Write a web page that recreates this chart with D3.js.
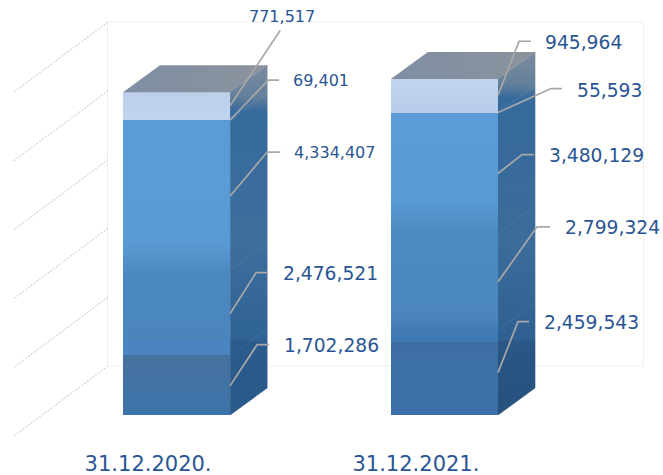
<!DOCTYPE html>
<html>
<head>
<meta charset="utf-8">
<script src="https://cdn.jsdelivr.net/npm/d3@7"></script>
<style>
  html, body { margin: 0; background: #fff; }
  text { font-family: "DejaVu Sans", Verdana, sans-serif; fill: #2a5595; }
</style>
</head>
<body>
<div id="chart"></div>
<script>
// Define the dataset, bottom of the stack first
var dates = ["31.12.2020.", "31.12.2021."];
var seriesA = [1702286, 2459543];
var seriesB = [2476521, 2799324];
var seriesC = [4334407, 3480129];
var seriesD = [69401, 55593];
var seriesE = [771517, 945964];
var wallTicks = [0, 2000000, 4000000, 6000000, 8000000, 10000000];

// Where each value label goes, in the same order as the stack, one list per date
// dx/dy = elbow relative to the start of the leader, run = flat part, tx/ty = label, size = font
var leaders2020 = [
  { dx: 27, dy: -41, run: 12, tx: 284, ty: 352, size: 18.7 },
  { dx: 26, dy: -41, run: 12, tx: 283, ty: 280, size: 18.7 },
  { dx: 37, dy: -44, run: 13, tx: 294, ty: 158, size: 16 },
  { dx: 38, dy: -40, run: 11, tx: 293, ty: 86, size: 16 },
  { dx: 50, dy: -75, run: 0, tx: 249, ty: 22, size: 16 }
];
var leaders2021 = [
  { dx: 20, dy: -51, run: 11, tx: 544, ty: 329, size: 18.7 },
  { dx: 39, dy: -55, run: 13, tx: 565, ty: 234, size: 18.7 },
  { dx: 24, dy: -19, run: 12, tx: 549, ty: 162, size: 18.7 },
  { dx: 53, dy: -24, run: 11, tx: 577, ty: 97, size: 18.7 },
  { dx: 21, dy: -54, run: 12, tx: 545, ty: 49, size: 18.7 }
];

var svgWidth = 663;
var svgHeight = 475;

// Depth of the fake 3D
var depthX = 37;
var depthY = -27;

var svg = d3.select("#chart")
  .append("svg")
  .attr("width", svgWidth)
  .attr("height", svgHeight)
  .style("display", "block");

var xBandScale = d3.scaleBand()
  .domain(dates)
  .range([123, 498])
  .paddingInner(0.6)
  .paddingOuter(0);

var yBar = d3.scaleLinear().domain([0, 10000000]).range([415, 70]);
var yWall = d3.scaleLinear().domain([0, 10000000]).range([366, 22]);
var yFloor = d3.scaleLinear().domain([0, 10000000]).range([436, 92]);

// Stack the series
var rows = dates.map(function(d, i) {
  return { date: d, a: seriesA[i], b: seriesB[i], c: seriesC[i], d: seriesD[i], e: seriesE[i] };
});
var stacked = d3.stack().keys(["a", "b", "c", "d", "e"])(rows);

// The source image is soft, so each bar shares one top-to-bottom gradient per face
// [pixel row, colour], repeated rows make a hard edge
var frontShade = [
  [[92, "#bccfe9"], [120, "#c2d4ed"], [120, "#5b9bd7"], [240, "#5b9bd5"], [275, "#4b88c0"],
    [340, "#4a86bc"], [342, "#4a85c4"], [355, "#4a84c0"], [355, "#45719f"], [415, "#3d74ab"]],
  [[79, "#c2d4ee"], [113, "#b8cdea"], [113, "#5b9bd7"], [200, "#5a9ad4"], [230, "#4c8ac3"],
    [320, "#4a86bc"], [330, "#3f7ab5"], [342, "#3f7ab5"], [342, "#3d6fa3"], [415, "#3b70a8"]]
];
var sideShade = [
  [[65, "#7c8b9d"], [96, "#64809b"], [112, "#356a9c"], [240, "#3d6f9d"], [340, "#2f6395"],
    [342, "#2b5a8c"], [388, "#2a5a8a"]],
  [[52, "#7c8b9d"], [84, "#64809b"], [98, "#356a9c"], [240, "#3b6c9a"], [340, "#2f6092"],
    [342, "#2a5786"], [388, "#28527f"]]
];
var defs = svg.append("defs");

function addGradient(id, stops) {
  var y0 = stops[0][0];
  var y1 = stops[stops.length - 1][0];
  var g = defs.append("linearGradient")
    .attr("id", id)
    .attr("gradientUnits", "userSpaceOnUse")
    .attr("x1", 0).attr("x2", 0).attr("y1", y0).attr("y2", y1);
  stops.forEach(function(s) {
    g.append("stop").attr("offset", (s[0] - y0) / (y1 - y0)).attr("stop-color", s[1]);
  });
}
frontShade.forEach(function(stops, i) { addGradient("front" + i, stops); });
sideShade.forEach(function(stops, i) { addGradient("side" + i, stops); });

var topGrad = defs.append("linearGradient").attr("id", "topFace");
topGrad.append("stop").attr("offset", 0).attr("stop-color", "#7e8ea3");
topGrad.append("stop").attr("offset", 1).attr("stop-color", "#8b939d");

// Back wall
svg.append("rect")
  .attr("x", 107.5)
  .attr("y", yWall(10000000))
  .attr("width", 536)
  .attr("height", yWall(0) - yWall(10000000))
  .attr("fill", "#fffffd")
  .attr("stroke", "#efefec");

// Dotted lines on the left side wall
svg.append("g")
  .selectAll("line")
  .data(wallTicks)
  .enter()
  .append("line")
  .attr("x1", 14)
  .attr("y1", function(d) { return yFloor(d); })
  .attr("x2", 108)
  .attr("y2", function(d) { return yWall(d); })
  .attr("stroke", "#b0b0b0")
  .attr("stroke-width", 0.8)
  .attr("stroke-dasharray", "2 1.5");

// Bars
function poly(pts) {
  return pts.map(function(p) { return p.join(","); }).join(" ");
}

var bw = xBandScale.bandwidth();

stacked.forEach(function(layer) {
  var group = svg.append("g").attr("class", "layer");

  group.selectAll("polygon")
    .data(layer)
    .enter()
    .append("polygon")
    .attr("points", function(d) {
      var r = xBandScale(d.data.date) + bw;
      return poly([[r, yBar(d[1])], [r + depthX, yBar(d[1]) + depthY],
        [r + depthX, yBar(d[0]) + depthY], [r, yBar(d[0])]]);
    })
    .attr("fill", function(d, i) { return "url(#side" + i + ")"; })
    .attr("stroke", function(d, i) { return "url(#side" + i + ")"; })
    .attr("stroke-width", 0.6);

  group.selectAll("rect")
    .data(layer)
    .enter()
    .append("rect")
    .attr("x", function(d) { return xBandScale(d.data.date); })
    .attr("y", function(d) { return yBar(d[1]); })
    .attr("width", bw)
    .attr("height", function(d) { return yBar(d[0]) - yBar(d[1]); })
    .attr("shape-rendering", "crispEdges")
    .attr("fill", function(d, i) { return "url(#front" + i + ")"; });
});

// Top face of each bar
svg.append("g")
  .selectAll("polygon")
  .data(stacked[4])
  .enter()
  .append("polygon")
  .attr("points", function(d) {
    var l = xBandScale(d.data.date);
    var t = yBar(d[1]);
    return poly([[l, t], [l + bw, t], [l + bw + depthX, t + depthY], [l + depthX, t + depthY]]);
  })
  .attr("fill", "url(#topFace)");

// Leader lines and value labels
var leaders = [leaders2020, leaders2021];

dates.forEach(function(date, di) {
  stacked.forEach(function(layer, li) {
    var d = layer[di];
    var l = leaders[di][li];
    var x0 = xBandScale(date) + bw;
    var y0 = yBar((d[0] + d[1]) / 2);

    svg.append("polyline")
      .attr("points", poly([[x0, y0], [x0 + l.dx, y0 + l.dy], [x0 + l.dx + l.run, y0 + l.dy]]))
      .attr("fill", "none")
      .attr("stroke", "#a8a8a8")
      .attr("stroke-width", 1.7);

    svg.append("text")
      .attr("x", l.tx)
      .attr("y", l.ty)
      .style("font-size", l.size + "px")
      .text(d3.format(",")(d[1] - d[0]));
  });
});

// Date labels, sit a bit left of the bars
var bottomAxis = d3.axisBottom(xBandScale).tickSize(0);

var axisGroup = svg.append("g")
  .attr("transform", "translate(-28.5, 451)")
  .call(bottomAxis);

axisGroup.select(".domain").remove();
axisGroup.selectAll("text")
  .attr("y", 0)
  .attr("dy", "20px")
  .style("font-family", "\"DejaVu Sans\", Verdana, sans-serif")
  .style("font-size", "21px")
  .style("fill", "#2a5595");
</script>
</body>
</html>
